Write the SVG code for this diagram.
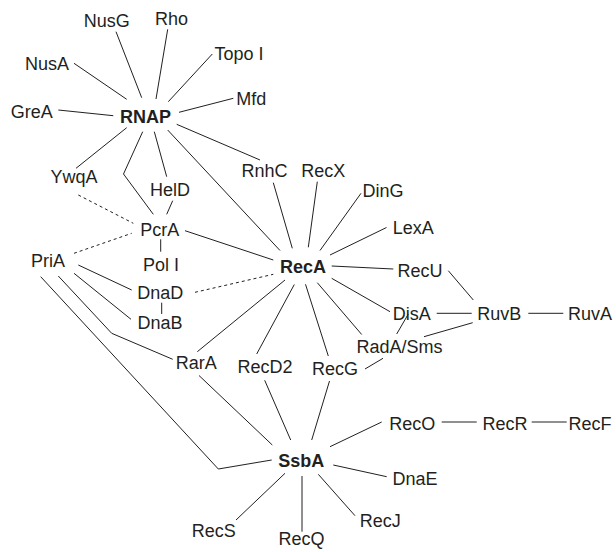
<svg xmlns="http://www.w3.org/2000/svg" width="616" height="552" viewBox="0 0 616 552">
<style>
text{font-family:"Liberation Sans",Arial,Helvetica,sans-serif;font-size:18px;fill:#231f20;text-anchor:middle}
.b{font-weight:bold}
.e{fill:none;stroke:#231f20;stroke-width:1}
.d{fill:none;stroke:#231f20;stroke-width:1;stroke-dasharray:3 3}
</style>
<rect width="616" height="552" fill="#fff"/>
<g id="connectors">
<line class="e" x1="116" y1="31.7" x2="141.7" y2="97.7"/>
<line class="e" x1="167.7" y1="29.3" x2="156" y2="99"/>
<line class="e" x1="212.3" y1="54" x2="168.3" y2="101.7"/>
<line class="e" x1="74" y1="63.3" x2="126.7" y2="99.3"/>
<line class="e" x1="233.3" y1="98.3" x2="179" y2="112.3"/>
<line class="e" x1="58.3" y1="110" x2="113.3" y2="115.7"/>
<line class="e" x1="126.7" y1="127.7" x2="76" y2="168.3"/>
<polyline class="e" points="142.7,131.7 123.5,174 153.3,214.3"/>
<line class="e" x1="154.3" y1="131.7" x2="166.7" y2="176.7"/>
<line class="e" x1="167.7" y1="130" x2="280" y2="250.5"/>
<line class="e" x1="176.7" y1="124.3" x2="260" y2="160"/>
<line class="d" x1="78.3" y1="195" x2="133.3" y2="223.3"/>
<line class="e" x1="172.7" y1="200.7" x2="166.7" y2="214.3"/>
<line class="e" x1="185" y1="230.7" x2="273.3" y2="260"/>
<line class="e" x1="160.7" y1="239.3" x2="160.7" y2="251.7"/>
<line class="d" x1="74" y1="253.3" x2="131.7" y2="233.3"/>
<line class="e" x1="78.3" y1="265" x2="131.7" y2="290"/>
<line class="e" x1="74" y1="273.3" x2="131" y2="319.3"/>
<line class="e" x1="161.7" y1="302.7" x2="161.7" y2="314"/>
<line class="d" x1="195" y1="292.3" x2="273.3" y2="274.3"/>
<polyline class="e" points="58.3,276 111.7,333.3 172.7,359.3"/>
<polyline class="e" points="40.7,276.7 218.3,469 271.7,460"/>
<line class="e" x1="285" y1="280" x2="197.3" y2="351.7"/>
<line class="e" x1="294.3" y1="284.5" x2="256.7" y2="354"/>
<line class="e" x1="273.3" y1="182.7" x2="292.3" y2="248.3"/>
<line class="e" x1="317.3" y1="181.7" x2="308.3" y2="247.3"/>
<line class="e" x1="361" y1="193.3" x2="320" y2="250.5"/>
<line class="e" x1="386.5" y1="227.5" x2="330" y2="255"/>
<line class="e" x1="331.7" y1="266" x2="393.3" y2="269"/>
<line class="e" x1="331.7" y1="278.3" x2="390" y2="311.7"/>
<line class="e" x1="317.3" y1="282.7" x2="361.7" y2="334.5"/>
<line class="e" x1="305.5" y1="284.3" x2="328.3" y2="356"/>
<line class="e" x1="448.3" y1="270.7" x2="473.3" y2="300"/>
<line class="e" x1="436.7" y1="313.3" x2="471.7" y2="313.3"/>
<line class="e" x1="528.3" y1="313.3" x2="563.3" y2="313.3"/>
<line class="e" x1="408.3" y1="314" x2="396.7" y2="334"/>
<line class="e" x1="472.7" y1="322.7" x2="424" y2="336.7"/>
<line class="e" x1="383" y1="358.3" x2="365" y2="369"/>
<line class="e" x1="199" y1="375.5" x2="272.3" y2="445"/>
<line class="e" x1="264.7" y1="380.3" x2="290.7" y2="440"/>
<line class="e" x1="329.5" y1="381" x2="311.7" y2="440"/>
<line class="e" x1="381.7" y1="422" x2="330" y2="446.7"/>
<line class="e" x1="441.7" y1="422" x2="476.7" y2="422"/>
<line class="e" x1="531.7" y1="422" x2="566.7" y2="422"/>
<line class="e" x1="333.3" y1="465" x2="386.7" y2="476.7"/>
<line class="e" x1="318.3" y1="474.3" x2="355" y2="515.7"/>
<line class="e" x1="302" y1="476" x2="302" y2="531.7"/>
<line class="e" x1="285" y1="473.3" x2="236" y2="520"/>
</g>
<g id="NusG"><text x="106.7" y="27">NusG</text></g>
<g id="Rho"><text x="171.5" y="25">Rho</text></g>
<g id="TopoI"><text x="239" y="60">Topo I</text></g>
<g id="NusA"><text x="47" y="70">NusA</text></g>
<g id="GreA"><text x="31.7" y="117.7">GreA</text></g>
<g id="RNAP"><text class="b" x="145.5" y="122.5">RNAP</text></g>
<g id="Mfd"><text x="251.3" y="105.3">Mfd</text></g>
<g id="YwqA"><text x="74" y="183">YwqA</text></g>
<g id="HelD"><text x="170" y="195.5">HelD</text></g>
<g id="RnhC"><text x="264.5" y="177">RnhC</text></g>
<g id="RecX"><text x="323.3" y="177">RecX</text></g>
<g id="DinG"><text x="383" y="197">DinG</text></g>
<g id="LexA"><text x="413.3" y="234">LexA</text></g>
<g id="PcrA"><text x="159.7" y="236">PcrA</text></g>
<g id="PolI"><text x="161" y="270.5">Pol I</text></g>
<g id="PriA"><text x="48" y="267">PriA</text></g>
<g id="RecA"><text class="b" x="303" y="273.3">RecA</text></g>
<g id="RecU"><text x="420" y="276.5">RecU</text></g>
<g id="DnaD"><text x="160.3" y="299.3">DnaD</text></g>
<g id="DnaB"><text x="160" y="329">DnaB</text></g>
<g id="DisA"><text x="411.7" y="320">DisA</text></g>
<g id="RuvB"><text x="499.2" y="320">RuvB</text></g>
<g id="RuvA"><text x="590" y="320">RuvA</text></g>
<g id="RadASms"><text x="399.5" y="353.3">RadA/Sms</text></g>
<g id="RarA"><text x="196.2" y="369.3">RarA</text></g>
<g id="RecD2"><text x="265" y="373">RecD2</text></g>
<g id="RecG"><text x="335" y="375">RecG</text></g>
<g id="RecO"><text x="412.3" y="430">RecO</text></g>
<g id="RecR"><text x="505" y="430">RecR</text></g>
<g id="RecF"><text x="590" y="430">RecF</text></g>
<g id="SsbA"><text class="b" x="301.3" y="466.7">SsbA</text></g>
<g id="DnaE"><text x="415" y="485">DnaE</text></g>
<g id="RecJ"><text x="380.3" y="526.7">RecJ</text></g>
<g id="RecQ"><text x="301.5" y="545">RecQ</text></g>
<g id="RecS"><text x="213.8" y="536.7">RecS</text></g>
</svg>
